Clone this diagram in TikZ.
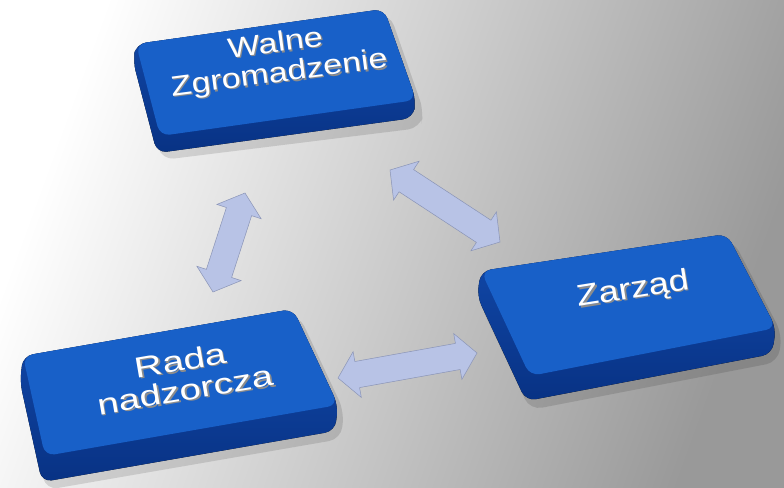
\documentclass[tikz,border=0pt]{standalone}
\usepackage{fontspec}
\setmainfont{Liberation Sans}
\usetikzlibrary{shapes.arrows,calc}
\definecolor{facebl}{RGB}{24,96,200}
\definecolor{slabtop}{RGB}{18,74,172}
\definecolor{slabbot}{RGB}{8,50,132}
\definecolor{arrfill}{RGB}{184,195,230}
\definecolor{arrdraw}{RGB}{138,148,182}
\newcommand{\embt}[2]{\leavevmode\rlap{\hspace{1.2pt}\raisebox{-1.6pt}{\textcolor{black!45}{\scalebox{#1}[1]{#2}}}}\scalebox{#1}[1]{#2}}
\tikzset{
  slab/.style={top color=slabtop, bottom color=slabbot, rounded corners=10pt},
  face/.style={fill=facebl, rounded corners=10pt},
  boxshadow/.style={fill=black, opacity=0.12, rounded corners=12pt},
  lbl/.style={text=white, align=center, inner sep=0pt},
  blockarrow/.style={double arrow, fill=arrfill, draw=arrdraw, line width=0.5pt,
    double arrow head extend=10pt, double arrow tip angle=100,
    inner xsep=0pt, inner ysep=13pt, minimum width=1pt}
}
\begin{document}
\begin{tikzpicture}[x=1pt,y=-1pt]
\useasboundingbox (0,0) rectangle (784,487);
% background
\shade[top color=white, bottom color=black!40, shading angle=70] (0,0) rectangle (784,487);

% ---------- Box 1: Walne Zgromadzenie ----------
\fill[boxshadow] (138,50) -- (390,14) -- (424,112) -- (420,128) -- (162,160) -- (136,70) -- cycle;
\fill[slab] (136,44) -- (384,9) -- (416,100) -- (413,118) -- (157,153) -- (133,61) -- cycle;
\fill[face] (136,44) -- (384,9) -- (416,100) -- (160,136) -- cycle;
\node[lbl, rotate=7.5, font=\fontsize{28}{30}\selectfont] (wz) at (277.5,60.5)
  {\embt{1.22}{Walne}\\\embt{1.22}{Zgromadzenie}};

% ---------- Box 2: Zarzad ----------
\fill[boxshadow] (484,277) -- (733,240) -- (782,334) -- (778,362) -- (530,410) -- (480,304) -- cycle;
\fill[slab] (481,271) -- (727,234) -- (776,328) -- (772,354) -- (526,401) -- (477,296) -- cycle;
\fill[face] (481,271) -- (727,234) -- (776,328) -- (530,376) -- cycle;
\node[lbl, rotate=9, font=\fontsize{30}{32}\selectfont] (zr) at (633.5,291)
  {\embt{1.21}{Zarząd}};

% ---------- Box 3: Rada nadzorcza ----------
\fill[boxshadow] (26,362) -- (299,315) -- (344,411) -- (341,439) -- (46,490) -- (22,388) -- cycle;
\fill[slab] (23,356) -- (293,309) -- (338,405) -- (335,431) -- (42,482) -- (20,382) -- cycle;
\fill[face] (23,356) -- (293,309) -- (338,405) -- (45,456) -- cycle;
\node[lbl, rotate=9.7, font=\fontsize{29}{30}\selectfont] (rn) at (183,376)
  {\embt{1.33}{Rada}\\\embt{1.33}{nadzorcza}};

% ---------- arrows ----------
\coordinate (a1) at (245,193);
\coordinate (a2) at (213,292);
\coordinate (b1) at (390,170);
\coordinate (b2) at (500,242);
\coordinate (c1) at (338,378);
\coordinate (c2) at (477,353);
\path let \p1=($(a2)-(a1)$), \n1={veclen(\x1,\y1)} in
  (a1) -- (a2) node[blockarrow, midway, sloped, minimum height=\n1] (arrA) {};
\path let \p1=($(b2)-(b1)$), \n1={veclen(\x1,\y1)} in
  (b1) -- (b2) node[blockarrow, midway, sloped, minimum height=\n1] (arrB) {};
\path let \p1=($(c2)-(c1)$), \n1={veclen(\x1,\y1)} in
  (c1) -- (c2) node[blockarrow, midway, sloped, minimum height=\n1] (arrC) {};
\end{tikzpicture}
\end{document}
